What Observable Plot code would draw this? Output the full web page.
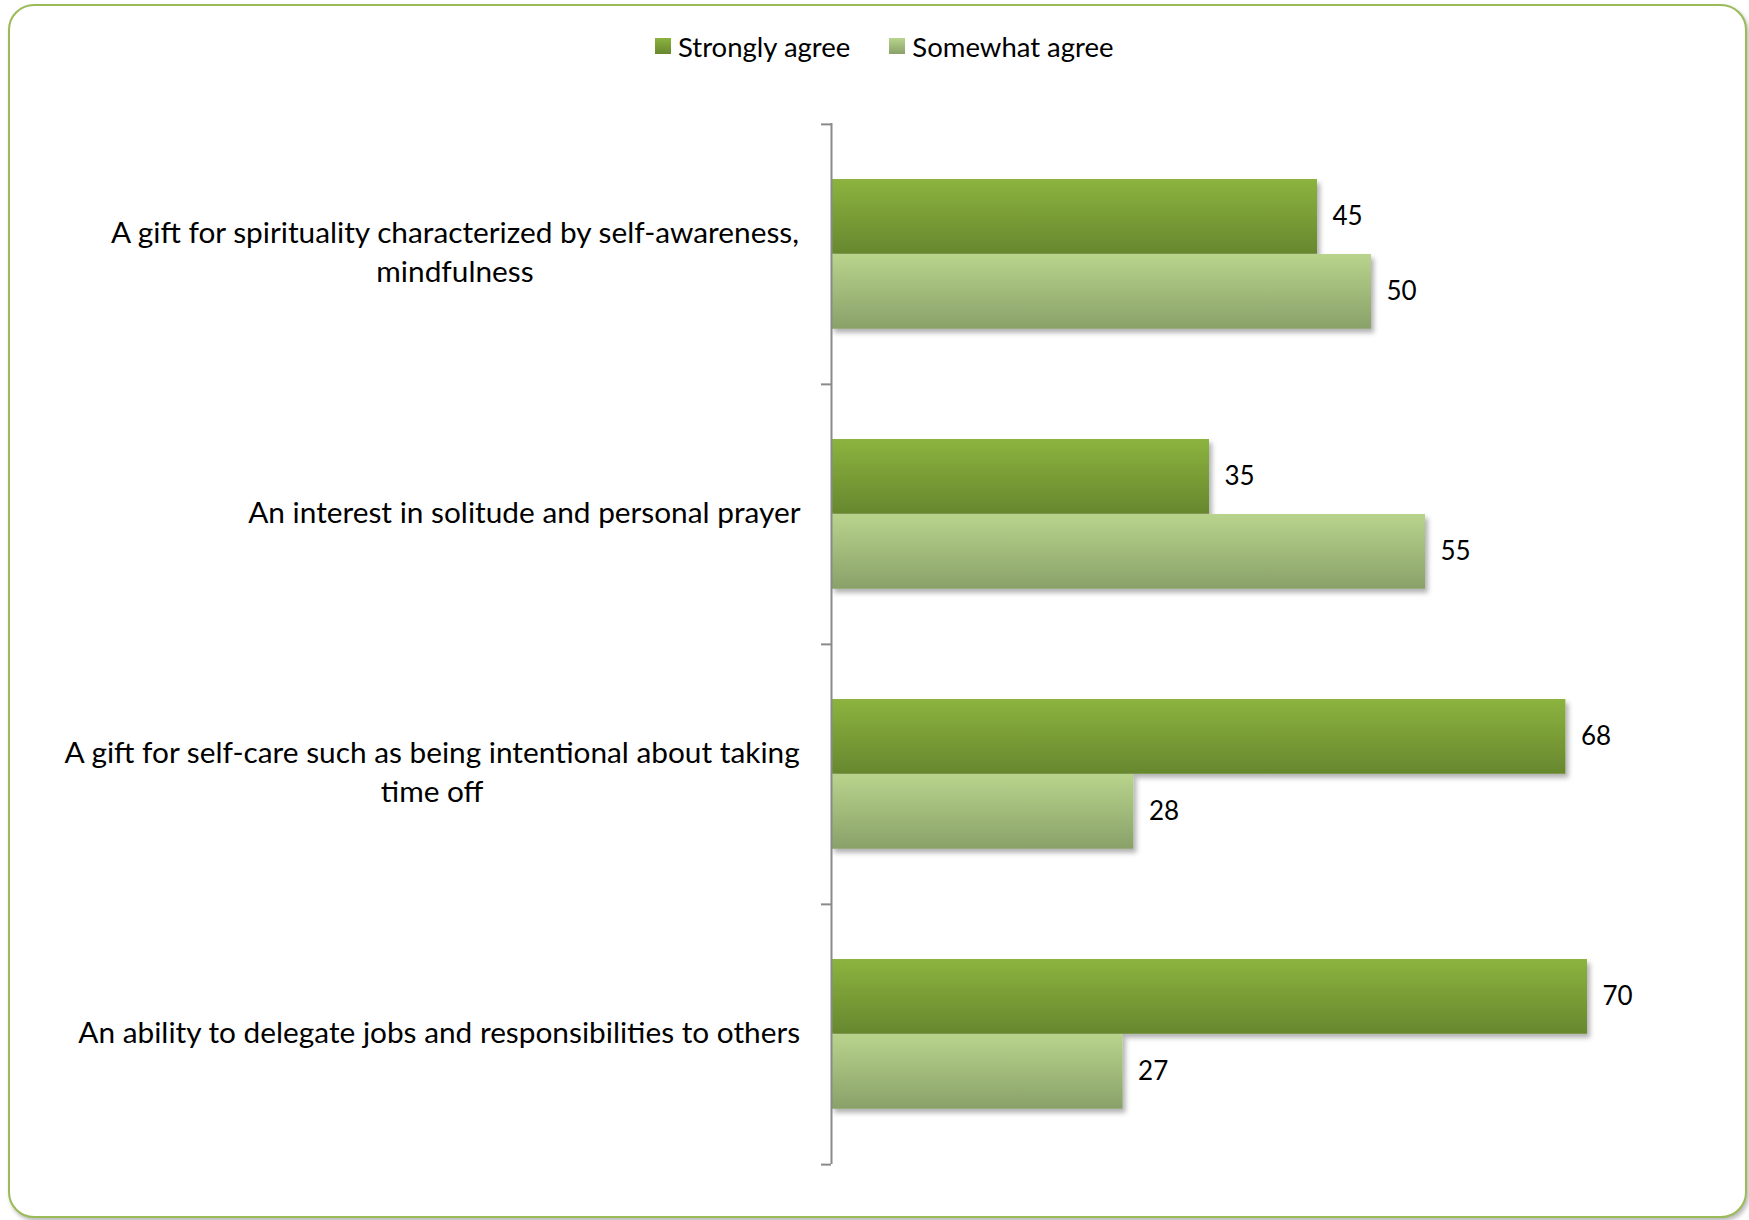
<!DOCTYPE html>
<html>
<head>
<meta charset="utf-8">
<script src="https://cdn.jsdelivr.net/npm/d3@7"></script>
<script src="https://cdn.jsdelivr.net/npm/@observablehq/plot@0.6"></script>
<style>
  html, body { margin: 0; padding: 0; background: #ffffff; }
  #wrap { position: relative; width: 1749px; height: 1220px; overflow: hidden; font-family: Lato, "Open Sans", sans-serif; }
  #border { position: absolute; left: 8px; top: 4px; width: 1739px; height: 1214px; box-sizing: border-box;
            border: 2.5px solid #9bbb59; border-radius: 26px; box-shadow: 2px 3px 4px rgba(0,0,0,0.28); background: #fff; }
  #legend { position: absolute; top: 28px; left: 655px; height: 36px; display: flex; align-items: center; font-size: 27.5px; color: #000; white-space: nowrap; }
  .sw { width: 16px; height: 16px; display: inline-block; margin-right: 7px; }
  .item { display: flex; align-items: center; margin-right: 39px; }
  #chart { position: absolute; left: 0; top: 0; }
</style>
</head>
<body>
<div id="wrap">
  <div id="border"></div>
  <div id="legend"></div>
  <div id="chart"></div>
</div>
<script>
// ---- data ----
const categories = [
  "A gift for spirituality characterized by self-awareness, mindfulness",
  "An interest in solitude and personal prayer",
  "A gift for self-care such as being intentional about taking time off",
  "An ability to delegate jobs and responsibilities to others"
];
const categoryLines = [
  ["A gift for spirituality characterized by self-awareness,", "mindfulness"],
  ["An interest in solitude and personal prayer"],
  ["A gift for self-care such as being intentional about taking", "time off"],
  ["An ability to delegate jobs and responsibilities to others"]
];
const series = ["Strongly agree", "Somewhat agree"];
const stronglyAgree = [45, 35, 68, 70];
const somewhatAgree = [50, 55, 28, 27];

// ---- table ----
const rows = [];
categories.forEach((c, i) => {
  rows.push({category: c, series: series[0], value: stronglyAgree[i]});
  rows.push({category: c, series: series[1], value: somewhatAgree[i]});
});
const strongRows = rows.filter(d => d.series === series[0]);
const someRows = rows.filter(d => d.series === series[1]);

// ---- layout ----
const FONT = "Lato, 'Open Sans', sans-serif";
const FS = 26;       // value labels
const LFS = 29.8;    // category labels
const W = 1749, H = 1220, mt = 123, mb = 56, ml = 831, mr = 54;
const plotW = W - ml - mr;
const step = (H - mt - mb) / categories.length;
const barH = 75, outer = 55;
const axisColor = "#8a8a8a";

const ctx = document.createElement("canvas").getContext("2d");
ctx.font = `${LFS}px Lato`;
const labelWidth = lines => Math.max(...lines.map(l => ctx.measureText(l).width));

const labelMarks = categories.map((c, i) =>
  Plot.text([c], {
    y: d => d,
    text: () => categoryLines[i].join("\n"),
    frameAnchor: "left",
    textAnchor: "middle",
    lineAnchor: "middle",
    lineHeight: 39 / LFS,
    fontSize: LFS,
    dx: -(31 + labelWidth(categoryLines[i]) / 2),
    dy: -4,
    fill: "#000"
  })
);

const svg = Plot.plot({
  width: W,
  height: H,
  marginTop: mt,
  marginBottom: mb,
  marginLeft: ml,
  marginRight: mr,
  x: {domain: [0, 80], axis: null},
  y: {domain: categories, padding: 0, axis: null},
  color: {domain: series, range: ["url(#gStrong)", "url(#gSome)"]},
  style: {fontFamily: FONT, fontSize: FS + "px", color: "#000", background: "transparent", overflow: "visible"},
  marks: [
    Plot.barX(strongRows, {x: "value", y: "category", fill: "series", insetTop: outer, insetBottom: step - outer - barH}),
    Plot.barX(someRows, {x: "value", y: "category", fill: "series", insetTop: outer + barH, insetBottom: step - outer - 2 * barH}),
    Plot.text(strongRows, {x: "value", y: "category", text: d => String(d.value), dy: outer + barH / 2 - step / 2, dx: 15, textAnchor: "start", fill: "#000"}),
    Plot.text(someRows, {x: "value", y: "category", text: d => String(d.value), dy: outer + 1.5 * barH - step / 2, dx: 15, textAnchor: "start", fill: "#000"}),
    Plot.ruleX([0], {stroke: axisColor, strokeWidth: 2}),
    Plot.ruleY(categories, {y: d => d, dy: -step / 2, insetLeft: -10, insetRight: plotW, stroke: axisColor, strokeWidth: 2}),
    Plot.ruleY([categories[categories.length - 1]], {y: d => d, dy: step / 2, insetLeft: -10, insetRight: plotW, stroke: axisColor, strokeWidth: 2}),
    ...labelMarks
  ]
});

// gradients and shadow
const s = d3.select(svg);
const defs = s.insert("defs", ":first-child");
function grad(id, top, bottom) {
  const g = defs.append("linearGradient").attr("id", id).attr("x1", 0).attr("y1", 0).attr("x2", 0).attr("y2", 1);
  g.append("stop").attr("offset", "0%").attr("stop-color", top);
  g.append("stop").attr("offset", "100%").attr("stop-color", bottom);
}
grad("gStrong", "#8cb33f", "#67872e");
grad("gSome", "#b8d48c", "#89a169");
const f = defs.append("filter").attr("id", "shadow").attr("x", "-5%").attr("y", "-5%").attr("width", "115%").attr("height", "115%");
f.append("feDropShadow").attr("dx", 3).attr("dy", 4).attr("stdDeviation", 2.5).attr("flood-color", "#000").attr("flood-opacity", 0.3);
s.selectAll('g[aria-label="bar"]').attr("filter", "url(#shadow)");

document.getElementById("chart").appendChild(svg);

// legend (HTML, above the SVG)
const legend = document.getElementById("legend");
const legendGrad = {"Strongly agree": ["#8cb33f", "#67872e"], "Somewhat agree": ["#b8d48c", "#89a169"]};
series.forEach(name => {
  const item = document.createElement("div");
  item.className = "item";
  const sw = document.createElement("span");
  sw.className = "sw";
  sw.style.background = `linear-gradient(${legendGrad[name][0]}, ${legendGrad[name][1]})`;
  const t = document.createElement("span");
  t.textContent = name;
  item.appendChild(sw);
  item.appendChild(t);
  legend.appendChild(item);
});
</script>
</body>
</html>
